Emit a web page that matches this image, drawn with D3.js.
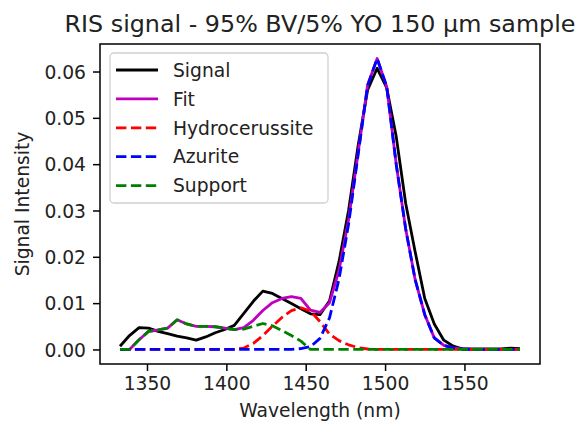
<!DOCTYPE html>
<html>
<head>
<meta charset="utf-8">
<script src="https://cdn.jsdelivr.net/npm/d3@7"></script>
<style>
  body { margin: 0; background: #fff; }
  svg { display: block; font-family: "DejaVu Sans", sans-serif; }
</style>
</head>
<body>
<svg id="chart"></svg>
<script>
const wavelengths = [1333, 1339, 1345, 1351, 1357, 1363, 1369, 1375, 1381, 1387, 1393, 1399, 1405, 1411, 1417,
  1423, 1429, 1435, 1441, 1447, 1453, 1459, 1465, 1471, 1477, 1483, 1489, 1495, 1501, 1507, 1513,
  1519, 1525, 1531, 1537, 1543, 1549, 1555, 1561, 1567, 1573, 1579, 1585];

const signal = [0.0007, 0.0030, 0.0047, 0.0046, 0.0039, 0.0034, 0.0029, 0.0025, 0.0020, 0.0027, 0.0036, 0.0043, 0.0052, 0.0078, 0.0104,
  0.0126, 0.0121, 0.0110, 0.0099, 0.0088, 0.0077, 0.0075, 0.0105, 0.0190, 0.0300, 0.0440, 0.0560, 0.0607, 0.0565, 0.0460, 0.0315,
  0.0210, 0.0110, 0.0055, 0.0020, 0.0007, 0.0001, 0.0001, 0.0001, 0.0001, 0.0001, 0.0003, 0.0002];

const fit = [0.0000, 0.0000, 0.0021, 0.0039, 0.0042, 0.0046, 0.0064, 0.0055, 0.0050, 0.0050, 0.0049, 0.0046, 0.0043, 0.0047, 0.0063,
  0.0084, 0.0101, 0.0110, 0.0114, 0.0110, 0.0085, 0.0080, 0.0101, 0.0171, 0.0280, 0.0424, 0.0571, 0.0628, 0.0568, 0.0400, 0.0260,
  0.0150, 0.0075, 0.0025, 0.0009, 0.0003, 0.0001, 0, 0, 0, 0, 0, 0];

const hydrocerussite = [0, 0, 0, 0, 0, 0, 0, 0, 0, 0, 0, 0, 0, 0.0003, 0.0013,
  0.0030, 0.0050, 0.0069, 0.0084, 0.0090, 0.0083, 0.0060, 0.0033, 0.0019, 0.0010, 0.0004, 0.0001, 0, 0, 0, 0,
  0, 0, 0, 0, 0, 0, 0, 0, 0, 0, 0, 0];

const azurite = [0, 0, 0, 0, 0, 0, 0, 0, 0, 0, 0, 0, 0, 0, 0,
  0, 0, 0, 0, 0.0002, 0.0006, 0.0024, 0.0068, 0.0152, 0.0270, 0.0420, 0.0570, 0.0628, 0.0568, 0.0400, 0.0260,
  0.0150, 0.0075, 0.0025, 0.0009, 0.0003, 0.0001, 0, 0, 0, 0, 0, 0];

const support = [0, 0, 0.0021, 0.0039, 0.0042, 0.0046, 0.0064, 0.0055, 0.0050, 0.0050, 0.0049, 0.0046, 0.0043, 0.0044, 0.0050,
  0.0056, 0.0051, 0.0041, 0.0030, 0.0018, 0, 0, 0, 0, 0, 0, 0, 0, 0, 0, 0,
  0, 0, 0, 0, 0, 0, 0, 0, 0, 0, 0, 0];

const xTicks = [1350, 1400, 1450, 1500, 1550];
const yTicks = [0, 0.01, 0.02, 0.03, 0.04, 0.05, 0.06];

const series = [
  { name: "Signal", values: signal, color: "#000000", dash: null },
  { name: "Fit", values: fit, color: "#bf00bf", dash: null },
  { name: "Hydrocerussite", values: hydrocerussite, color: "#ff0000", dash: "10.4,4.5" },
  { name: "Azurite", values: azurite, color: "#0000ff", dash: "10.4,4.5" },
  { name: "Support", values: support, color: "#008000", dash: "10.4,4.5" }
];

const w = 577;
const h = 424;
const margin = { left: 100, right: 37, top: 44, bottom: 60 };
const fs = 18.7;

const svg = d3.select("#chart").attr("width", w).attr("height", h);

// matplotlib-style 5% padding
const xMin = d3.min(wavelengths), xMax = d3.max(wavelengths);
const xPad = (xMax - xMin) * 0.05;
const yMax = d3.max(series, (s) => d3.max(s.values));
const yPad = yMax * 0.05;

const xScale = d3.scaleLinear()
  .domain([xMin - xPad, xMax + xPad])
  .range([margin.left, w - margin.right]);

const yScale = d3.scaleLinear()
  .domain([-yPad, yMax + yPad])
  .range([h - margin.bottom, margin.top]);

const line = d3.line()
  .x((d) => xScale(d[0]))
  .y((d) => yScale(d[1]));

series.forEach((s) => {
  svg.append("path")
    .datum(wavelengths.map((wl, i) => [wl, s.values[i]]))
    .attr("fill", "none")
    .attr("stroke", s.color)
    .attr("stroke-width", 2.8)
    .attr("stroke-linejoin", "round")
    .attr("stroke-dasharray", s.dash)
    .attr("d", line);
});

// axes
const xAxis = d3.axisBottom(xScale).tickValues(xTicks).tickSize(7).tickPadding(6).tickFormat(d3.format("d"));
const yAxis = d3.axisLeft(yScale).tickValues(yTicks).tickSize(7).tickPadding(7).tickFormat(d3.format(".2f"));

const gx = svg.append("g")
  .attr("transform", `translate(0, ${h - margin.bottom})`)
  .call(xAxis);
const gy = svg.append("g")
  .attr("transform", `translate(${margin.left}, 0)`)
  .call(yAxis);

[gx, gy].forEach((g) => {
  g.select(".domain").remove();
  g.selectAll(".tick line").attr("stroke", "#000").attr("stroke-width", 1.5);
  g.selectAll(".tick text").attr("fill", "#222").style("font-size", fs + "px").style("font-family", "DejaVu Sans");
});
gy.selectAll(".tick text").attr("dy", "0.36em");

// frame
svg.append("rect")
  .attr("x", margin.left)
  .attr("y", margin.top)
  .attr("width", w - margin.left - margin.right)
  .attr("height", h - margin.top - margin.bottom)
  .attr("fill", "none")
  .attr("stroke", "#000")
  .attr("stroke-width", 1.5);

// title and labels
svg.append("text")
  .attr("x", (margin.left + w - margin.right) / 2)
  .attr("y", 32)
  .attr("text-anchor", "middle")
  .attr("fill", "#222")
  .style("font-size", "23.8px")
  .text("RIS signal - 95% BV/5% YO 150 μm sample");

svg.append("text")
  .attr("x", (margin.left + w - margin.right) / 2)
  .attr("y", 417)
  .attr("text-anchor", "middle")
  .attr("fill", "#222")
  .style("font-size", fs + "px")
  .text("Wavelength (nm)");

svg.append("text")
  .attr("transform", `translate(29, ${(margin.top + h - margin.bottom) / 2}) rotate(-90)`)
  .attr("text-anchor", "middle")
  .attr("fill", "#222")
  .style("font-size", fs + "px")
  .text("Signal Intensity");

// legend
const legend = svg.append("g").attr("transform", "translate(110, 53)");
legend.append("rect")
  .attr("width", 218)
  .attr("height", 150)
  .attr("rx", 4)
  .attr("fill", "#fff")
  .attr("fill-opacity", 0.8)
  .attr("stroke", "#d0d0d0")
  .attr("stroke-width", 1.3);

series.forEach((s, i) => {
  const yy = 17 + i * 28.9;
  legend.append("line")
    .attr("x1", 6).attr("x2", 48)
    .attr("y1", yy).attr("y2", yy)
    .attr("stroke", s.color)
    .attr("stroke-width", 2.8)
    .attr("stroke-dasharray", s.dash);
  legend.append("text")
    .attr("x", 63)
    .attr("y", yy)
    .attr("dy", "0.36em")
    .attr("fill", "#222")
    .style("font-size", fs + "px")
    .text(s.name);
});
</script>
</body>
</html>
